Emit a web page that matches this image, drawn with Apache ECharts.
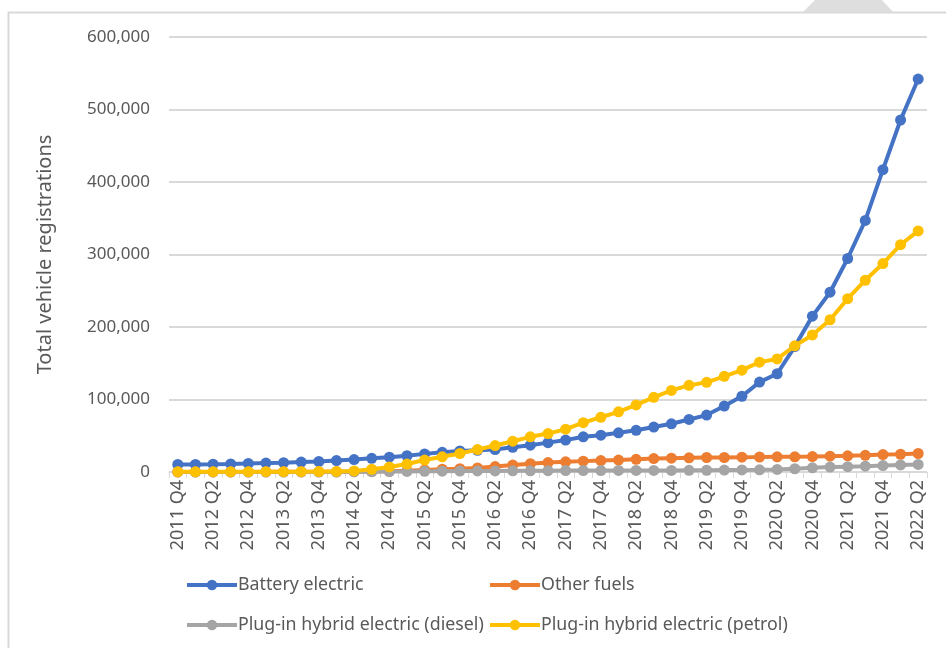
<!DOCTYPE html>
<html>
<head>
<meta charset="utf-8">
<script src="https://cdn.jsdelivr.net/npm/echarts@6/dist/echarts.min.js"></script>
<style>
  html, body { margin: 0; padding: 0; background: #ffffff; }
  #chart { width: 946px; height: 648px; }
</style>
</head>
<body>
<div id="chart"></div>
<script>
// Quarterly periods, 2011 Q4 to 2022 Q2
const quarters = [
  '2011 Q4',
  '2012 Q1', '2012 Q2', '2012 Q3', '2012 Q4',
  '2013 Q1', '2013 Q2', '2013 Q3', '2013 Q4',
  '2014 Q1', '2014 Q2', '2014 Q3', '2014 Q4',
  '2015 Q1', '2015 Q2', '2015 Q3', '2015 Q4',
  '2016 Q1', '2016 Q2', '2016 Q3', '2016 Q4',
  '2017 Q1', '2017 Q2', '2017 Q3', '2017 Q4',
  '2018 Q1', '2018 Q2', '2018 Q3', '2018 Q4',
  '2019 Q1', '2019 Q2', '2019 Q3', '2019 Q4',
  '2020 Q1', '2020 Q2', '2020 Q3', '2020 Q4',
  '2021 Q1', '2021 Q2', '2021 Q3', '2021 Q4',
  '2022 Q1', '2022 Q2'
];

const batteryElectric = [
  10500, 10500, 10800, 11200, 11800, 12300, 12800, 13700, 14500, 15800,
  17200, 18800, 20500, 22400, 25000, 27200, 29000, 30000, 31000, 34000,
  37000, 40500, 44000, 48500, 50800, 54000, 57500, 62000, 66500, 72500,
  78500, 91000, 104500, 124000, 135500, 173000, 215000, 248000, 294500, 347000,
  417000, 485500, 542000
];

const otherFuels = [
  100, 100, 100, 100, 100, 200, 200, 200, 300, 300,
  400, 600, 1000, 1800, 2800, 3800, 4500, 5500, 7500, 9500,
  11500, 13000, 14000, 15000, 15800, 16500, 17500, 18500, 19000, 19500,
  20000, 20000, 20500, 20700, 21000, 21000, 21300, 21800, 22300, 23000,
  24000, 24500, 25500
];

const phevDiesel = [
  0, 0, 0, 0, 0, 0, 0, 0, 0, 0,
  200, 400, 600, 800, 1000, 1200, 1300, 1400, 1500, 1600,
  1700, 1800, 1900, 2000, 2000, 2100, 2100, 2200, 2200, 2300,
  2400, 2600, 2800, 3000, 3500, 4500, 5800, 6800, 7400, 8000,
  8800, 9800, 10500
];

const phevPetrol = [
  200, 200, 300, 300, 300, 400, 400, 500, 600, 800,
  1500, 3800, 7000, 11000, 16500, 21000, 25500, 31000, 36500, 42500,
  48500, 53000, 59000, 68000, 75500, 83000, 92500, 103000, 112500, 119500,
  123700, 132000, 140500, 151500, 156000, 174000, 189000, 210000, 239000, 264500,
  287500, 313500, 332500
];

const yTicks = [0, 100000, 200000, 300000, 400000, 500000, 600000];

const seriesNames = [
  'Battery electric',
  'Other fuels',
  'Plug-in hybrid electric (diesel)',
  'Plug-in hybrid electric (petrol)'
];
const seriesColors = ['#4472C4', '#ED7D31', '#A5A5A5', '#FFC000'];
const seriesValues = [batteryElectric, otherFuels, phevDiesel, phevPetrol];

const FONT = '"Noto Sans", "DejaVu Sans", sans-serif';
const TEXT = '#595959';
const GRID = '#d9d9d9';

function lineSeries(i) {
  return {
    name: seriesNames[i],
    type: 'line',
    data: seriesValues[i],
    symbol: 'circle',
    symbolSize: 11,
    showAllSymbol: true,
    z: 2 + i,
    lineStyle: { width: 4, color: seriesColors[i] },
    itemStyle: { color: seriesColors[i] }
  };
}

function legendAt(name, left, top) {
  return {
    data: [name],
    left: left,
    top: top,
    itemWidth: 50,
    itemHeight: 13,
    itemGap: 0,
    padding: 0,
    lineStyle: { width: 4 },
    textStyle: { fontFamily: FONT, fontSize: 17.8, color: TEXT, padding: [0, 0, 0, -4] }
  };
}

const chart = echarts.init(document.getElementById('chart'), null, { renderer: 'canvas' });

chart.setOption({
  animation: false,
  backgroundColor: '#ffffff',
  graphic: [
    {
      type: 'rect',
      shape: { x: 8.5, y: 12.5, width: 1000, height: 700 },
      style: { fill: 'none', stroke: '#d9d9d9', lineWidth: 2 },
      silent: true
    },
    {
      type: 'polygon',
      shape: { points: [[803, 12], [815, 0], [882, 0], [893, 12]] },
      style: { fill: '#dedede' },
      silent: true
    }
  ],
  grid: { left: 169, right: 19, top: 37, bottom: 176 },
  legend: [
    legendAt(seriesNames[0], 185, 576),
    legendAt(seriesNames[1], 488, 576),
    legendAt(seriesNames[2], 185, 616),
    legendAt(seriesNames[3], 488, 616)
  ],
  xAxis: {
    type: 'category',
    data: quarters,
    boundaryGap: true,
    axisLine: { show: true, lineStyle: { color: GRID, width: 1 } },
    axisTick: { show: true, interval: 0, length: 6, lineStyle: { color: GRID } },
    axisLabel: {
      interval: 1,
      rotate: 90,
      margin: 8,
      fontFamily: FONT,
      fontSize: 18,
      color: TEXT
    },
    splitLine: { show: false }
  },
  yAxis: {
    type: 'value',
    min: yTicks[0],
    max: yTicks[yTicks.length - 1],
    interval: yTicks[1] - yTicks[0],
    name: 'Total vehicle registrations',
    nameLocation: 'middle',
    nameGap: 114,
    nameRotate: 90,
    nameTextStyle: { fontFamily: FONT, fontSize: 20, color: TEXT },
    axisLine: { show: false },
    axisTick: { show: false },
    axisLabel: {
      margin: 19,
      fontFamily: FONT,
      fontSize: 17,
      color: TEXT,
      formatter: v => v.toLocaleString('en-GB')
    },
    splitLine: { lineStyle: { color: GRID, width: 2 } }
  },
  series: [0, 1, 2, 3].map(lineSeries)
});
</script>
</body>
</html>
